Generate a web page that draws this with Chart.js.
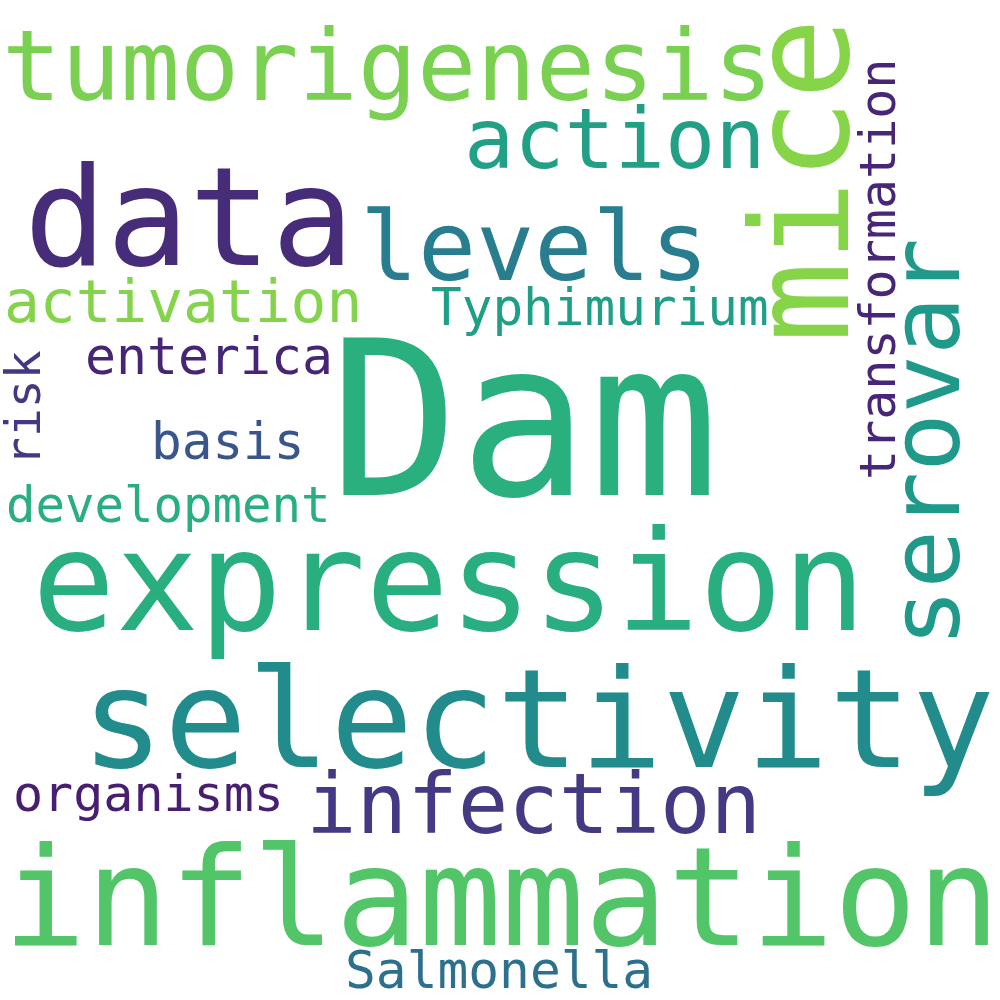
<!DOCTYPE html>
<html>
<head>
<meta charset="utf-8">
<script src="https://cdn.jsdelivr.net/npm/chart.js@4"></script>
<style>
html,body{margin:0;padding:0;background:#ffffff;}
#wrap{width:1000px;height:1000px;position:relative;}
</style>
</head>
<body>
<div id="wrap"><canvas id="c"></canvas></div>
<script>
// Words of the cloud
const words = ["Dam","inflammation","expression","selectivity","data","tumorigenesis","levels","action","activation","enterica","basis","development","Typhimurium","infection","organisms","Salmonella","mice","serovar","transformation","risk"];
// Relative weight (font size in px on a 1000px canvas)
const weights = [216,138,138.5,138,137,98.5,96.5,83.5,59.5,51.5,51,49,51,84,50,51.2,135,97,50,48];
// Position of each word: ink-left / baseline (horizontal); baseline / ink-bottom (vertical)
const xValues = [343,15,40,95,32,8,367,469,7,88,155,8,432,313,16,348,848,959,895,40];
const yValues = [495,945,630,767,265,100,280,168,322,374,459,522,325,833,811,988,336,637,477,458];
// 1 = rotated (reads bottom to top)
const vertical = [0,0,0,0,0,0,0,0,0,0,0,0,0,0,0,0,1,1,1,1];
const palette = ["#2ab07f","#52c569","#29af7f","#228c8d","#472c7a","#7ad151","#287d8e","#22a085","#84d44b","#482475","#39568c","#28ae80","#1f9f88","#443983","#481f70","#2d708e","#86d549","#1f9a8a","#482677","#453781"];

const cloudPlugin = {
  id: 'cloud',
  afterDatasetsDraw(chart) {
    const ctx = chart.ctx;
    const meta = chart.getDatasetMeta(0);
    const k = chart.scales.x.width / 1000;
    meta.data.forEach((pt, i) => {
      const size = weights[i] * k;
      ctx.save();
      ctx.font = size + 'px "DejaVu Sans Mono"';
      ctx.fillStyle = palette[i];
      ctx.textAlign = 'left';
      ctx.textBaseline = 'alphabetic';
      const m = ctx.measureText(words[i]);
      ctx.translate(pt.x, pt.y);
      if (vertical[i]) ctx.rotate(-Math.PI / 2);
      ctx.fillText(words[i], m.actualBoundingBoxLeft, 0);
      ctx.restore();
    });
  }
};

new Chart(document.getElementById('c'), {
  type: 'scatter',
  data: {
    datasets: [{
      data: words.map((w, i) => ({x: xValues[i], y: yValues[i]})),
      pointRadius: 0,
      pointHoverRadius: 0
    }]
  },
  options: {
    responsive: true,
    maintainAspectRatio: false,
    animation: false,
    devicePixelRatio: 1,
    layout: {padding: 0},
    plugins: {legend: {display: false}, tooltip: {enabled: false}},
    events: [],
    scales: {
      x: {type: 'linear', min: 0, max: 1000, display: false},
      y: {type: 'linear', min: 0, max: 1000, reverse: true, display: false}
    }
  },
  plugins: [cloudPlugin]
});
</script>
</body>
</html>
